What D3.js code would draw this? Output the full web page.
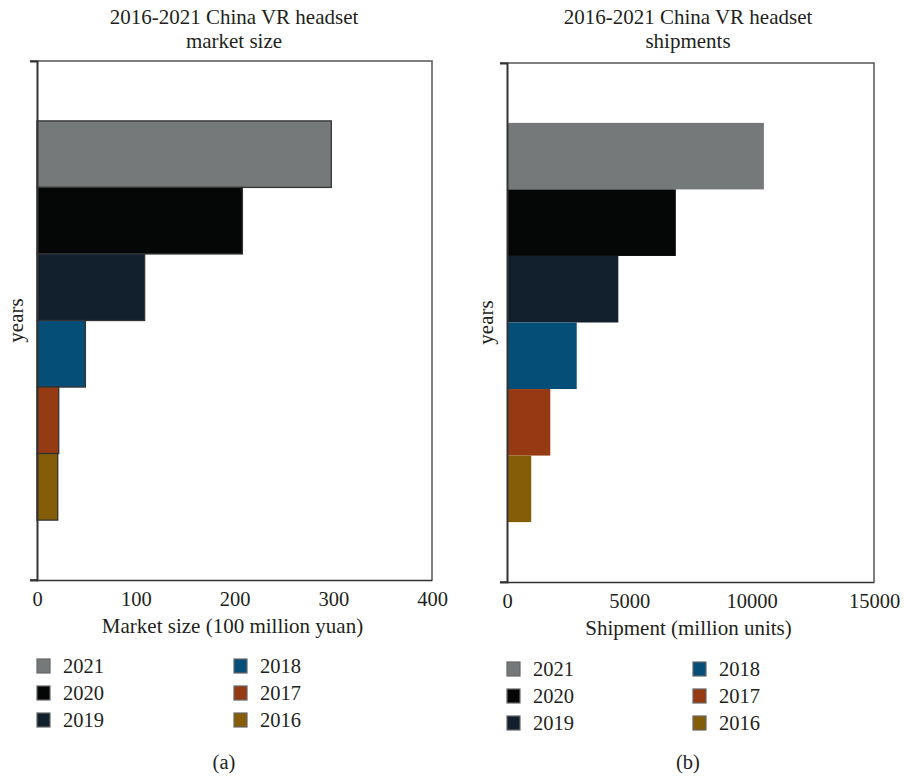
<!DOCTYPE html>
<html>
<head>
<meta charset="utf-8">
<script src="https://cdn.jsdelivr.net/npm/d3@7"></script>
<style>
  body { margin: 0; background: #fff; }
  svg text { font-family: "Liberation Serif", "DejaVu Serif", serif; fill: #231f20; }
</style>
</head>
<body>
<svg id="chart" width="904" height="778"></svg>
<script>
// ---- data ----
const years = ["2021", "2020", "2019", "2018", "2017", "2016"];
const marketSize = [298, 208, 109, 49, 22, 21];          // 100 million yuan
const shipments = [10500, 6900, 4550, 2850, 1770, 990];  // million units
const yearColors = ["#76797a", "#050707", "#12202e", "#054e78", "#953a12", "#855d06"];
const marketTicks = [0, 100, 200, 300, 400];
const shipmentTicks = [0, 5000, 10000, 15000];
const titlesA = ["2016-2021 China VR headset", "market size"];
const titlesB = ["2016-2021 China VR headset", "shipments"];
const xLabelA = "Market size (100 million yuan)";
const xLabelB = "Shipment (million units)";
const yLabel = "years";
const legendOrder = [["2021", "2020", "2019"], ["2018", "2017", "2016"]];

const svg = d3.select("#chart");
const color = d3.scaleOrdinal().domain(years).range(yearColors);
const FONT = '"Liberation Serif", "DejaVu Serif", serif';

function panel(cfg) {
  const g = svg.append("g");
  const x = d3.scaleLinear().domain([cfg.ticks[0], cfg.ticks[cfg.ticks.length - 1]]).range([cfg.x0, cfg.x1]);
  const y = d3.scaleBand().domain(years).range([cfg.top, cfg.bottom]).paddingInner(0).paddingOuter(0.9);

  // titles
  cfg.titles.forEach((t, i) => {
    g.append("text").attr("x", cfg.titleX).attr("y", 24 + i * 24)
      .attr("text-anchor", "middle").attr("font-size", 21).text(t);
  });

  // frame (top + right)
  g.append("path")
    .attr("d", `M${cfg.x0 - 7},${cfg.top}H${cfg.x1}V${cfg.bottom}`)
    .attr("fill", "none").attr("stroke", "#555").attr("stroke-width", 1.5);

  // bars
  g.selectAll("rect.bar").data(years).join("rect").attr("class", "bar")
    .attr("x", x(0))
    .attr("y", d => y(d))
    .attr("width", (d, i) => x(cfg.values[i]) - x(0))
    .attr("height", y.bandwidth())
    .attr("fill", d => color(d))
    .attr("stroke", cfg.barStroke ? "#333" : "none")
    .attr("stroke-width", 1.3);

  // x axis
  const xa = g.append("g").attr("transform", `translate(0,${cfg.bottom})`)
    .call(d3.axisBottom(x).tickValues(cfg.ticks).tickSize(0).tickPadding(11).tickFormat(d3.format("d")));
  xa.attr("font-family", FONT);
  xa.select(".domain").attr("stroke", "#333").attr("stroke-width", 1.5);
  xa.selectAll("text").attr("font-size", 20.5).attr("fill", "#231f20");

  // y axis (only end ticks)
  const ya = g.append("g").attr("transform", `translate(${cfg.x0},0)`)
    .call(d3.axisLeft(y).tickValues([]).tickSizeOuter(7));
  ya.select(".domain").attr("stroke", "#333").attr("stroke-width", 2);
  g.append("line").attr("x1", cfg.x0 - 7).attr("x2", cfg.x0).attr("y1", cfg.bottom).attr("y2", cfg.bottom)
    .attr("stroke", "#333").attr("stroke-width", 1.5);

  // labels
  g.append("text").attr("x", (cfg.x0 + cfg.x1) / 2 - 2).attr("y", cfg.bottom + 53)
    .attr("text-anchor", "middle").attr("font-size", 21).text(cfg.xLabel);
  g.append("text").attr("transform", `translate(${cfg.x0 - 14},${(cfg.top + cfg.bottom) / 2}) rotate(-90)`)
    .attr("text-anchor", "middle").attr("font-size", 21).text(yLabel);

  // legend
  legendOrder.forEach((col, ci) => {
    col.forEach((yr, ri) => {
      const lx = cfg.legX[ci], ly = cfg.legY + ri * 27;
      g.append("rect").attr("x", lx).attr("y", ly - 7).attr("width", 13).attr("height", 14)
        .attr("fill", color(yr)).attr("stroke", "#666").attr("stroke-width", 1.2);
      g.append("text").attr("x", lx + 26).attr("y", ly + 7).attr("font-size", 20.5).text(yr);
    });
  });

  g.append("text").attr("x", cfg.capX).attr("y", 769).attr("text-anchor", "middle")
    .attr("font-size", 20.5).text(cfg.caption);
}

panel({
  x0: 37, x1: 432, top: 61, bottom: 580, ticks: marketTicks, values: marketSize,
  titles: titlesA, titleX: 234, xLabel: xLabelA, barStroke: true,
  legX: [37, 234], legY: 666, capX: 224, caption: "(a)"
});
panel({
  x0: 507, x1: 874, top: 63, bottom: 582, ticks: shipmentTicks, values: shipments,
  titles: titlesB, titleX: 688, xLabel: xLabelB, barStroke: false,
  legX: [507, 693], legY: 669, capX: 688, caption: "(b)"
});
</script>
</body>
</html>
